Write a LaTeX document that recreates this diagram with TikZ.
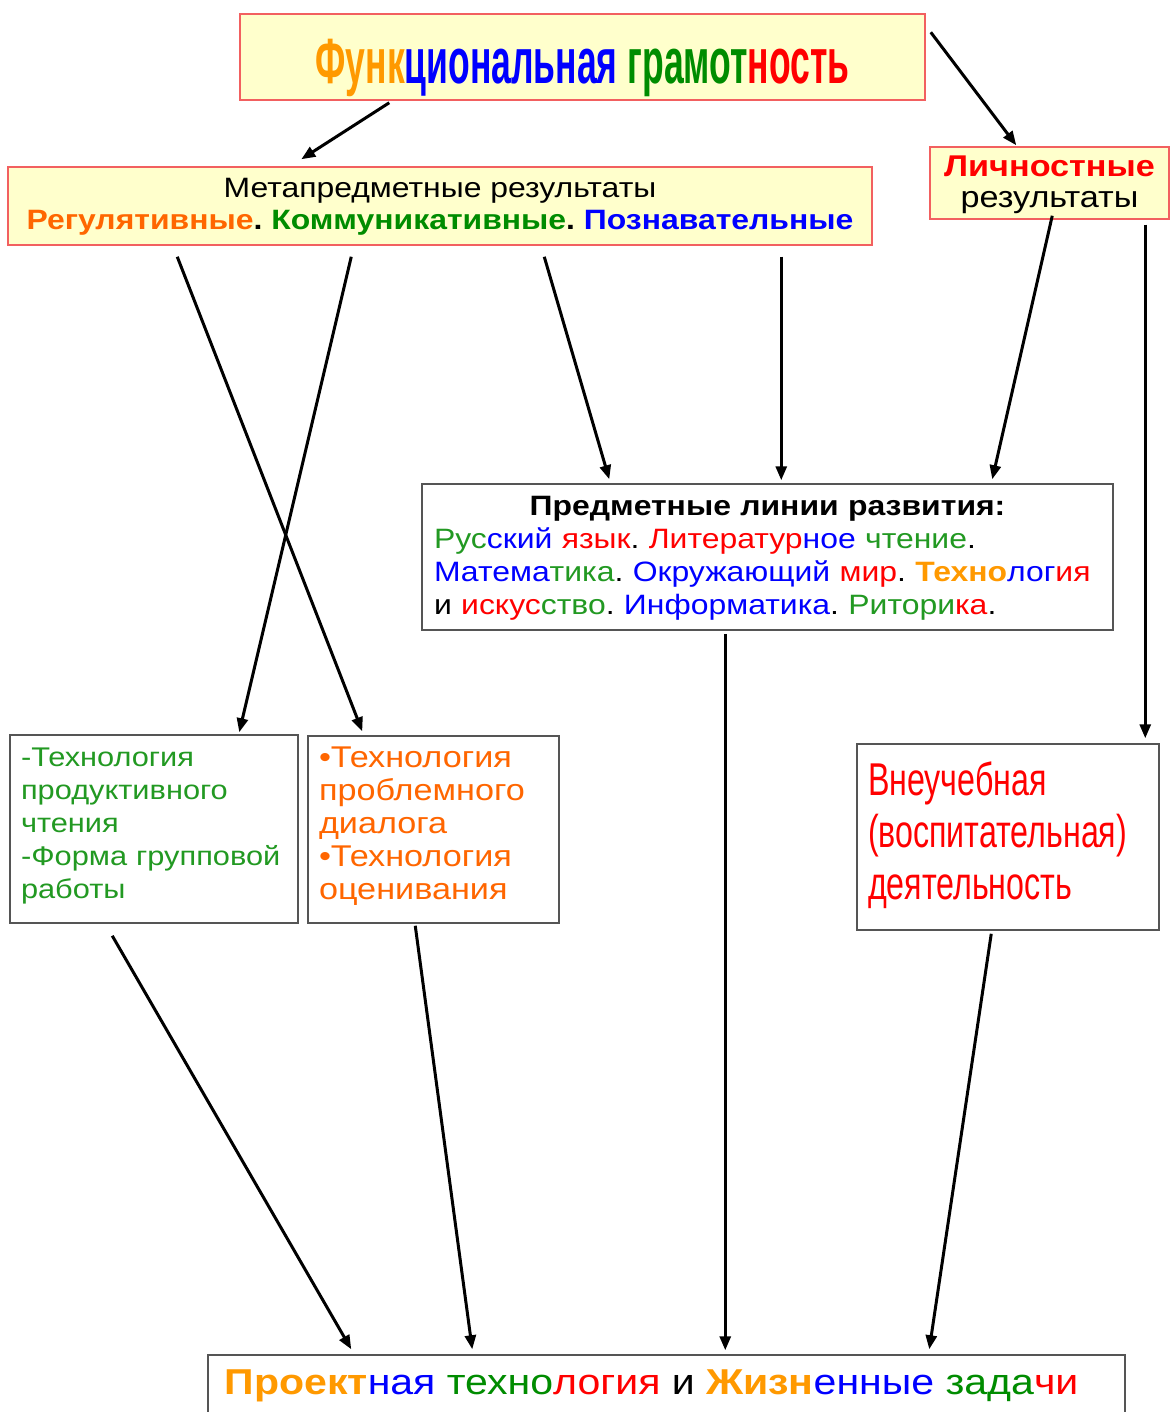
\documentclass[tikz,border=0pt]{standalone}
\usepackage{fontspec}
\setmainfont[FakeStretch=1.14]{Liberation Sans}
\newfontfamily\titlefont[FakeStretch=0.555]{Liberation Sans}
\newfontfamily\vnefont[FakeStretch=0.70]{Liberation Sans}
\usetikzlibrary{arrows.meta,calc}
\definecolor{tOr}{HTML}{FF9900}
\definecolor{tOR}{HTML}{FF6600}
\definecolor{tBl}{HTML}{0000FF}
\definecolor{tGr}{HTML}{008C00}
\definecolor{tGl}{HTML}{229922}
\definecolor{tRe}{HTML}{FF0000}
\definecolor{yfill}{HTML}{FFFFCC}
\definecolor{rline}{HTML}{F26060}
\definecolor{gline}{HTML}{555555}
\newcommand{\topst}[1]{\rule{0pt}{#1pt}}
\newcommand{\botst}[1]{\rule[-#1pt]{0pt}{#1pt}}
\tikzset{
  ybox/.style={draw=rline, line width=1.5pt, fill=yfill, inner sep=0pt},
  wbox/.style={draw=gline, line width=1.5pt, fill=white, inner sep=0pt},
  arr/.style={line width=3pt, -{Triangle[length=14pt,width=11pt]}},
}
\begin{document}
\frenchspacing
\begin{tikzpicture}[x=1pt,y=-1pt]
\fill[white] (0,0) rectangle (1171,1412);
\clip (0,0) rectangle (1171,1412);
% title
\node[ybox, minimum width=685pt, minimum height=86pt,
      font={\titlefont\bfseries\fontsize{64}{70}\selectfont}] (title) at (582.5,57)
  {\rule[-14pt]{0pt}{82pt}\color{tOr}Функ\color{tBl}циональная \color{tGr}грамот\color{tRe}ность};
% meta
\node[ybox, minimum width=864pt, minimum height=78pt, align=center,
      font={\fontsize{28}{32}\selectfont}] (meta) at (440,206)
  {\topst{23}Метапредметные результаты\\
   \bfseries\textcolor{tOR}{Регулятивные}. \textcolor{tGr}{Коммуникативные}. \textcolor{tBl}{Познавательные}\botst{7}};
% lichnostnye
\node[ybox, minimum width=239pt, minimum height=72pt, align=center,
      font={\fontsize{30}{31}\selectfont}] (lich) at (1049.5,183)
  {\topst{25}\textbf{\textcolor{tRe}{Личностные}}\\
   результаты\botst{6}};
% predmetnye
\node[wbox, minimum width=691pt, minimum height=146pt, text width=667pt, align=left,
      font={\fontsize{28}{33}\selectfont}] (pred) at (767.5,557)
  {\topst{23}\makebox[667pt][c]{\bfseries Предметные линии развития:}\\
   \mbox{\textcolor{tGl}{Рус}\textcolor{tBl}{ский} \textcolor{tRe}{язык}. \textcolor{tRe}{Литератур}\textcolor{tBl}{ное} \textcolor{tGl}{чтение}.}\\
   \mbox{\textcolor{tBl}{Матема}\textcolor{tGl}{тика}. \textcolor{tBl}{Окружающий} \textcolor{tRe}{мир}. \textcolor{tOr}{\bfseries Техно}\textcolor{tBl}{лог}\textcolor{tRe}{ия}}\\
   \mbox{и \textcolor{tRe}{искус}\textcolor{tGl}{ство}. \textcolor{tBl}{Информатика}. \textcolor{tGl}{Ритори}\textcolor{tRe}{ка}.}\botst{8}};
% box1
\node[wbox, minimum width=288pt, minimum height=188pt, text width=266pt, align=left,
      font={\fontsize{27}{33}\selectfont}, text=tGl] (b1) at (154,829)
  {\topst{22}-Технология\\продуктивного\\чтения\\-Форма групповой\\работы\botst{16}};
% box2
\node[wbox, minimum width=251pt, minimum height=187pt, text width=229pt, align=left,
      font={\fontsize{30}{33}\selectfont}, text=tOR] (b2) at (433.5,829.5)
  {\topst{24}•Технология\\проблемного\\диалога\\•Технология\\оценивания\botst{17}};
% vneuchebnaya
\node[wbox, minimum width=302pt, minimum height=186pt, text width=280pt, align=left,
      font={\vnefont\fontsize{46}{52}\selectfont}, text=tRe] (vne) at (1008,837)
  {\topst{37}Внеучебная\\(воспитательная)\\деятельность\botst{17}};
% bottom
\node[wbox, minimum width=917pt, minimum height=75pt,
      font={\fontsize{36}{40}\selectfont}] (bot) at (666.5,1392.5)
  {\hspace*{-30pt}\rule[-27pt]{0pt}{57pt}\textcolor{tOr}{\bfseries Проект}\textcolor{tBl}{ная} \textcolor{tGr}{техно}\textcolor{tRe}{логия} и \textcolor{tOr}{\bfseries Жизн}\textcolor{tBl}{енные} \textcolor{tGr}{зада}\textcolor{tRe}{чи}};
% arrows
\draw[arr] ([shift={(150,2)}]title.south west) -- ([shift={(294,-7)}]meta.north west);
\draw[arr] ([shift={(5,19)}]title.north east) -- ([shift={(87,-1)}]lich.north west);
\draw[arr] ([shift={(170,11)}]meta.south west) -- ([shift={(55,-4)}]b2.north west);
\draw[arr] ([shift={(344,11)}]meta.south west) -- ([shift={(230,-2)}]b1.north west);
\draw[arr] ([shift={(537,11)}]meta.south west) -- ([shift={(188,-4)}]pred.north west);
\draw[arr] ([shift={(774,11)}]meta.south west) -- ([shift={(360,-3)}]pred.north west);
\draw[arr] ([shift={(123,-4)}]lich.south west) -- ([shift={(571,-4)}]pred.north west);
\draw[arr] ([shift={(216,5)}]lich.south west) -- ([shift={(289,-5)}]vne.north west);
\draw[arr] ([shift={(103,12)}]b1.south west) -- ([shift={(144,-5)}]bot.north west);
\draw[arr] ([shift={(108,2)}]b2.south west) -- ([shift={(265,-5)}]bot.north west);
\draw[arr] ([shift={(304,3)}]pred.south west) -- ([shift={(518,-4)}]bot.north west);
\draw[arr] ([shift={(135,3)}]vne.south west) -- ([shift={(722,-5)}]bot.north west);
\end{tikzpicture}
\end{document}
